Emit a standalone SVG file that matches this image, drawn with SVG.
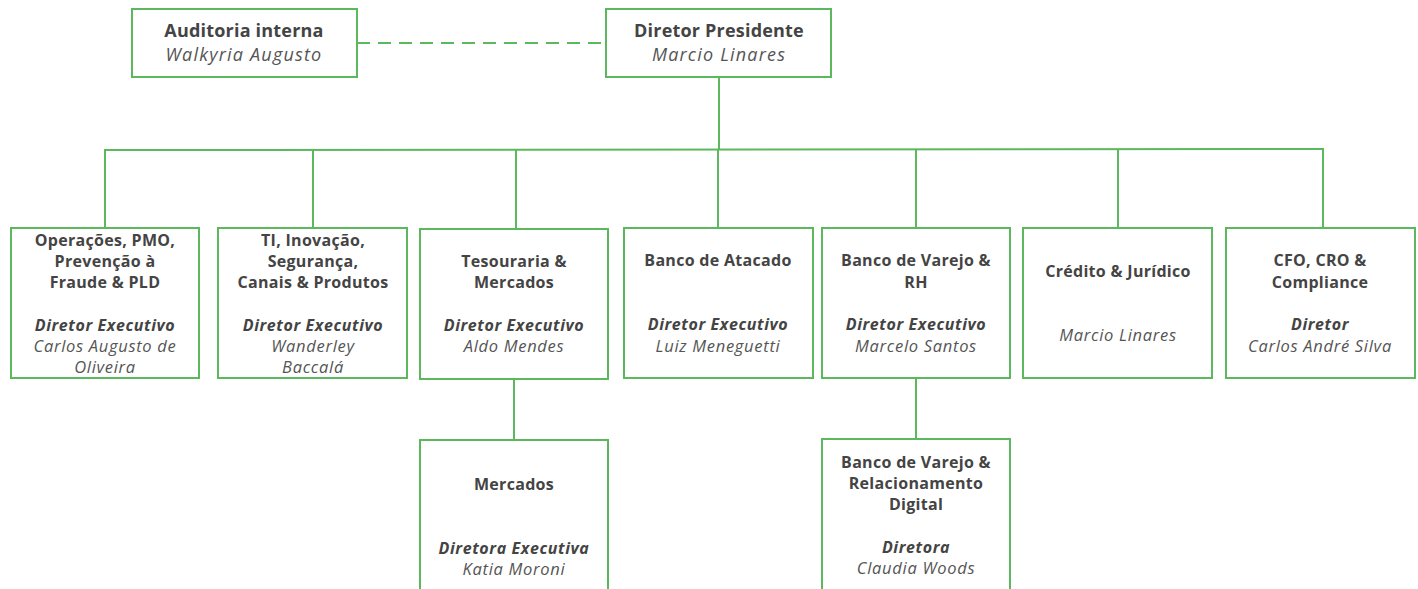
<svg xmlns="http://www.w3.org/2000/svg" width="1418" height="589" viewBox="0 0 1418 589">
<style>
.box{fill:#fff;stroke:#5cb85c;stroke-width:2}
.ln{fill:none;stroke:#5cb85c;stroke-width:2}
text{font-family:"Open Sans","Liberation Sans",sans-serif;text-anchor:middle;fill:#444}
.t{font-weight:bold;font-size:16px;letter-spacing:0.3px}
.r{font-weight:bold;font-style:italic;font-size:16px;letter-spacing:0.6px}
.n{font-style:italic;font-size:16.5px;letter-spacing:0.7px;fill:#555}
.tt{font-weight:bold;font-size:18px;letter-spacing:0.2px}
.tn{font-style:italic;font-size:18px;letter-spacing:1.2px;fill:#555}
</style>
<rect width="1418" height="589" fill="#fff"/>
<g id="connectors">
<line class="ln" x1="357" y1="43" x2="606" y2="43" stroke-dasharray="13,8"/>
<line class="ln" x1="719" y1="77" x2="719" y2="150"/>
<line class="ln" x1="104" y1="150" x2="1324" y2="149"/>
<line class="ln" x1="105" y1="150" x2="105" y2="228"/>
<line class="ln" x1="313" y1="150" x2="313" y2="228"/>
<line class="ln" x1="516" y1="150" x2="516" y2="229"/>
<line class="ln" x1="718" y1="150" x2="718" y2="228"/>
<line class="ln" x1="916" y1="150" x2="916" y2="228"/>
<line class="ln" x1="1118" y1="149" x2="1118" y2="228"/>
<line class="ln" x1="1323" y1="149" x2="1323" y2="228"/>
<line class="ln" x1="514" y1="379" x2="514" y2="440"/>
<line class="ln" x1="916" y1="378" x2="916" y2="439"/>
</g>
<g id="auditoria">
<rect class="box" x="132" y="9" width="225" height="68"/>
<text class="tt" x="244" y="37">Auditoria interna</text>
<text class="tn" x="244" y="61">Walkyria Augusto</text>
</g>
<g id="presidente">
<rect class="box" x="606" y="9" width="225" height="68"/>
<text class="tt" x="719" y="37">Diretor Presidente</text>
<text class="tn" x="719" y="61">Marcio Linares</text>
</g>
<g id="operacoes">
<rect class="box" x="11" y="228" width="188" height="150"/>
<text class="t" x="105" y="246">Operações, PMO,</text>
<text class="t" x="105" y="267">Prevenção à</text>
<text class="t" x="105" y="288">Fraude &amp; PLD</text>
<text class="r" x="105" y="331">Diretor Executivo</text>
<text class="n" x="105" y="352">Carlos Augusto de</text>
<text class="n" x="105" y="373">Oliveira</text>
</g>
<g id="ti">
<rect class="box" x="218" y="228" width="189" height="150"/>
<text class="t" x="313" y="246">TI, Inovação,</text>
<text class="t" x="313" y="267">Segurança,</text>
<text class="t" x="313" y="288">Canais &amp; Produtos</text>
<text class="r" x="313" y="331">Diretor Executivo</text>
<text class="n" x="313" y="352">Wanderley</text>
<text class="n" x="313" y="373">Baccalá</text>
</g>
<g id="tesouraria">
<rect class="box" x="420" y="229" width="188" height="150"/>
<text class="t" x="514" y="267">Tesouraria &amp;</text>
<text class="t" x="514" y="288">Mercados</text>
<text class="r" x="514" y="331">Diretor Executivo</text>
<text class="n" x="514" y="352">Aldo Mendes</text>
</g>
<g id="atacado">
<rect class="box" x="624" y="228" width="189" height="150"/>
<text class="t" x="718" y="266">Banco de Atacado</text>
<text class="r" x="718" y="330">Diretor Executivo</text>
<text class="n" x="718" y="352">Luiz Meneguetti</text>
</g>
<g id="varejo">
<rect class="box" x="822" y="228" width="188" height="150"/>
<text class="t" x="916" y="266">Banco de Varejo &amp;</text>
<text class="t" x="916" y="288">RH</text>
<text class="r" x="916" y="330">Diretor Executivo</text>
<text class="n" x="916" y="352">Marcelo Santos</text>
</g>
<g id="credito">
<rect class="box" x="1023" y="228" width="189" height="150"/>
<text class="t" x="1118" y="277">Crédito &amp; Jurídico</text>
<text class="n" x="1118" y="341">Marcio Linares</text>
</g>
<g id="cfo">
<rect class="box" x="1226" y="228" width="189" height="150"/>
<text class="t" x="1320" y="266">CFO, CRO &amp;</text>
<text class="t" x="1320" y="288">Compliance</text>
<text class="r" x="1320" y="330">Diretor</text>
<text class="n" x="1320" y="352">Carlos André Silva</text>
</g>
<g id="mercados">
<path class="ln" d="M420,595 V440 H608 V595"/>
<text class="t" x="514" y="490">Mercados</text>
<text class="r" x="514" y="554">Diretora Executiva</text>
<text class="n" x="514" y="575">Katia Moroni</text>
</g>
<g id="relacionamento">
<path class="ln" d="M822,595 V439 H1010 V595"/>
<text class="t" x="916" y="468">Banco de Varejo &amp;</text>
<text class="t" x="916" y="489">Relacionamento</text>
<text class="t" x="916" y="510">Digital</text>
<text class="r" x="916" y="553">Diretora</text>
<text class="n" x="916" y="574">Claudia Woods</text>
</g>
</svg>
